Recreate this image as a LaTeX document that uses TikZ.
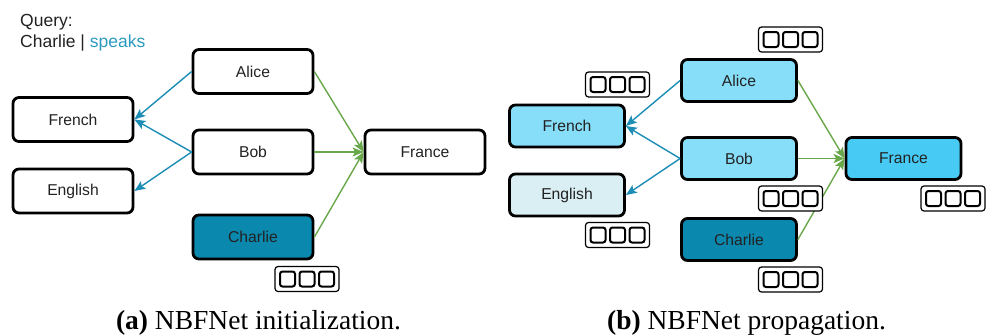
\documentclass[tikz,border=0pt]{standalone}
\usepackage{fontspec}
\setmainfont{Liberation Serif}
\newfontfamily\arialish{Liberation Sans}
\usetikzlibrary{arrows.meta}

\definecolor{txtgray}{HTML}{222222}
\definecolor{relblue}{HTML}{1C8DB5}
\definecolor{relgreen}{HTML}{68A84A}
\definecolor{speakcol}{HTML}{2B9AC0}
\definecolor{queryfill}{HTML}{0B88AE}
\definecolor{hopone}{HTML}{87DEF8}
\definecolor{hoptwo}{HTML}{47CBF5}
\definecolor{faint}{HTML}{DAEFF3}

\tikzset{
  ent/.style={draw=black, line width=2.8pt, rounded corners=6pt,
    minimum width=120pt, minimum height=44pt, inner sep=0pt,
    font=\arialish\fontsize{15.7}{18}\selectfont, text=txtgray},
  entb/.style={ent, minimum width=115pt, minimum height=42pt},
  bluerel/.style={draw=relblue, line width=1.4pt,
    -{Stealth[length=11pt,width=9pt,inset=2.5pt]}},
  greenrel/.style={draw=relgreen, line width=1.4pt,
    -{Stealth[length=11pt,width=9pt,inset=2.5pt]}},
  vecframe/.style={draw=black, line width=1.2pt, rounded corners=3pt,
    minimum width=64pt, minimum height=25pt, inner sep=0pt, fill=white},
  veccell/.style={draw=black, line width=2pt, rounded corners=2.5pt,
    minimum size=15pt, inner sep=0pt},
  caption/.style={anchor=base, inner sep=0pt,
    font=\fontsize{27.5}{30}\selectfont},
  vecbox/.pic={
    \node[vecframe] (-f) at (0,0) {};
    \node[veccell] (-a) at (-19.5,0) {};
    \node[veccell] (-b) at (0,0) {};
    \node[veccell] (-c) at (19.5,0) {};
  }
}

\begin{document}
\begin{tikzpicture}[x=1pt, y=-1pt]
\useasboundingbox (0,0) rectangle (986,335);

% ---------- (a) initialization ----------
\node[anchor=base west, inner sep=0pt, font=\arialish\fontsize{17.5}{20}\selectfont, text=txtgray]
  (qhead) at (20,26) {Query:};
\node[anchor=base west, inner sep=0pt, font=\arialish\fontsize{17.5}{20}\selectfont, text=txtgray]
  (qline) at (20,47) {Charlie | \textcolor{speakcol}{speaks}};

\node[ent] (alice)   at (253,71.5) {Alice};
\node[ent] (french)  at (73,119.5) {French};
\node[ent] (bob)     at (253,152) {Bob};
\node[ent] (english) at (73,191) {English};
\node[ent, fill=queryfill] (charlie) at (253,237) {Charlie};
\node[ent] (france)  at (425,152) {France};

\draw[bluerel] (alice.west) -- (french.east);
\draw[bluerel] (bob.west) -- (french.east);
\draw[bluerel] (bob.west) -- (english.east);
\draw[greenrel] (alice.east) -- (france.west);
\draw[greenrel] (bob.east) -- (france.west);
\draw[greenrel] (charlie.east) -- (france.west);

\pic (va) at (307,279) {vecbox};

% ---------- (b) propagation ----------
\node[entb, fill=hopone] (alice2)   at (739,80.5) {Alice};
\node[entb, fill=hopone] (french2)  at (567,126) {French};
\node[entb, fill=hopone] (bob2)     at (739,158.5) {Bob};
\node[entb, fill=faint]  (english2) at (567,195) {English};
\node[entb, fill=queryfill] (charlie2) at (739,239.5) {Charlie};
\node[entb, fill=hoptwo] (france2)  at (903.5,158.5) {France};

\draw[bluerel] (alice2.west) -- (french2.east);
\draw[bluerel] (bob2.west) -- (french2.east);
\draw[bluerel] (bob2.west) -- (english2.east);
\draw[greenrel] (alice2.east) -- (france2.west);
\draw[greenrel] (bob2.east) -- (france2.west);
\draw[greenrel] (charlie2.east) -- (france2.west);

\pic (valice)   at (790.5,39.5) {vecbox};
\pic (vfrench)  at (617.5,84.5) {vecbox};
\pic (venglish) at (617.5,235) {vecbox};
\pic (vbob)     at (790.5,198.5) {vecbox};
\pic (vfrance)  at (953,198.5) {vecbox};
\pic (vcharlie) at (790.5,279.5) {vecbox};

% ---------- captions ----------
\node[caption] (capa) at (258.5,329) {\textbf{(a)} NBFNet initialization.};
\node[caption] (capb) at (746.5,329) {\textbf{(b)} NBFNet propagation.};
\end{tikzpicture}
\end{document}
